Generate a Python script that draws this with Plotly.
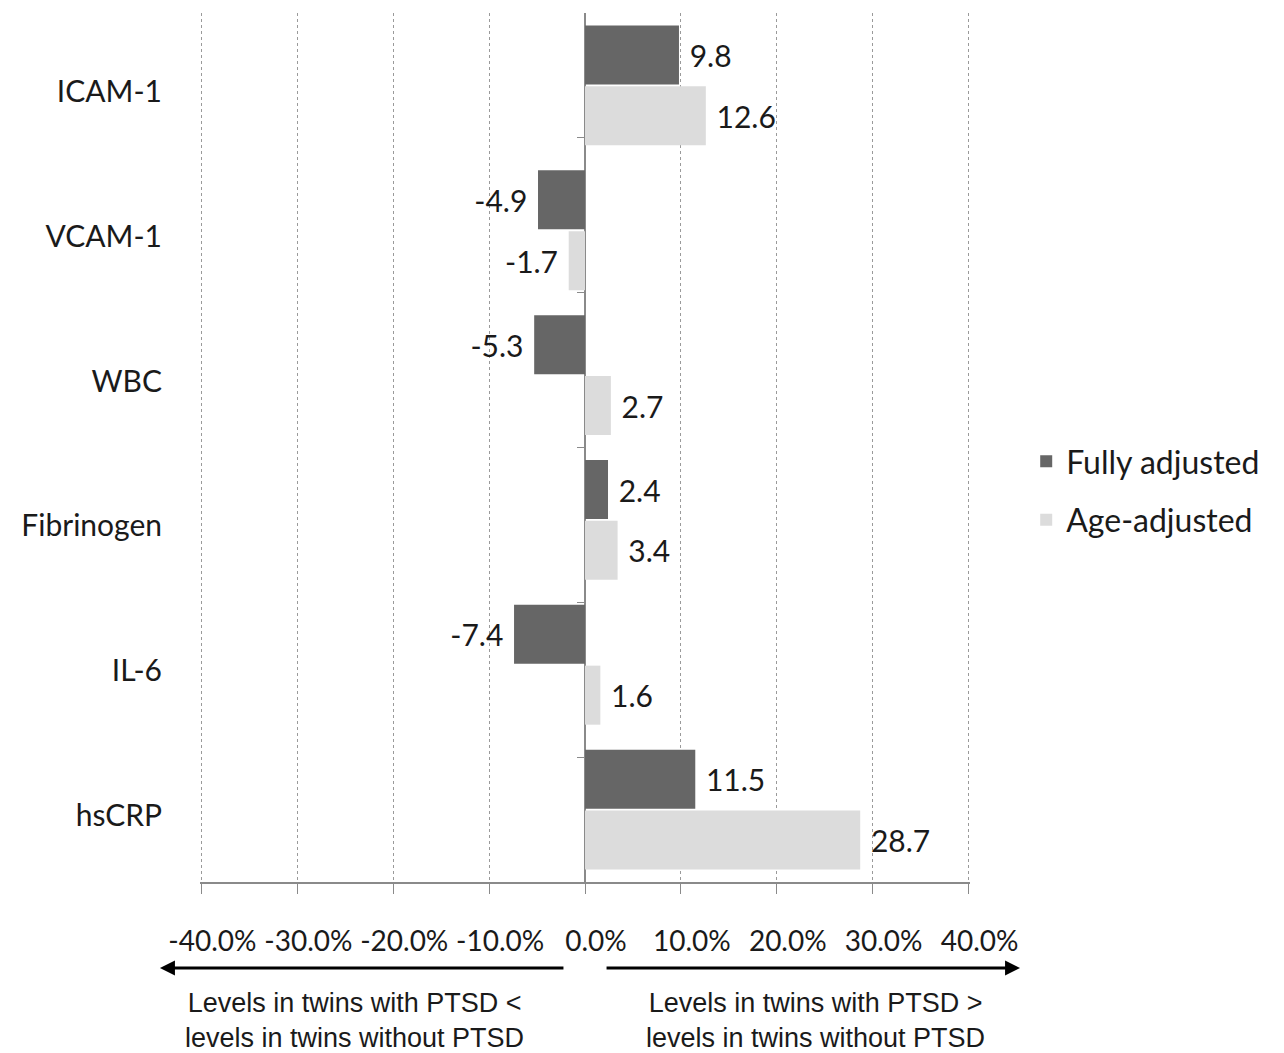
import plotly.graph_objects as go

categories = ["ICAM-1", "VCAM-1", "WBC", "Fibrinogen", "IL-6", "hsCRP"]
fully_adjusted = [9.8, -4.9, -5.3, 2.4, -7.4, 11.5]
age_adjusted = [12.6, -1.7, 2.7, 3.4, 1.6, 28.7]
tick_values = [-40, -30, -20, -10, 0, 10, 20, 30, 40]
tick_labels = ["-40.0%", "-30.0%", "-20.0%", "-10.0%", "0.0%", "10.0%", "20.0%", "30.0%", "40.0%"]
left_note = "Levels in twins with PTSD <<br>levels in twins without PTSD"
right_note = "Levels in twins with PTSD ><br>levels in twins without PTSD"

FONT = "Lato"
TXT = "#1a1a1a"


def templates(vals):
    return [" %{x:.1f}" if v >= 0 else "%{x:.1f} " for v in vals]


fig = go.Figure()
fig.add_trace(go.Bar(
    name="Fully adjusted", y=categories, x=fully_adjusted, orientation="h",
    marker=dict(color="#666666", line=dict(width=0)), legendgroup="a",
    texttemplate=templates(fully_adjusted), textposition="outside", cliponaxis=False,
    textfont=dict(family=FONT, size=30, color=TXT),
))
fig.add_trace(go.Bar(
    name="Age-adjusted", y=categories, x=age_adjusted, orientation="h",
    marker=dict(color="#dcdcdc", line=dict(width=0)), legendgroup="b",
    texttemplate=templates(age_adjusted), textposition="outside", cliponaxis=False,
    textfont=dict(family=FONT, size=30, color=TXT),
))
# helper trace for the boundary ticks on the zero line
fig.add_trace(go.Scatter(x=[None] * len(categories), y=categories, yaxis="y2",
                         showlegend=False, hoverinfo="skip", mode="markers"))

fig.update_layout(
    width=1284, height=1053,
    margin=dict(l=200, r=314, t=13, b=171, autoexpand=False),
    paper_bgcolor="white", plot_bgcolor="white",
    barmode="group", bargap=0.16, bargroupgap=0.03,
    font=dict(family=FONT, size=26, color=TXT),
    xaxis=dict(
        range=[-40.15, 40.15], tickvals=tick_values, ticktext=tick_labels,
        showgrid=True, gridcolor="#9a9a9a", griddash="3px,3px", gridwidth=1,
        zeroline=True, zerolinecolor="#8a8a8a", zerolinewidth=1.5,
        showline=True, linecolor="#8a8a8a", linewidth=1.5,
        ticks="outside", ticklen=10, tickcolor="#8a8a8a", automargin=False,
        tickangle=0, ticklabelstandoff=24, ticklabelshift=11,
        tickfont=dict(family=FONT, size=28, color=TXT),
    ),
    yaxis=dict(
        type="category", categoryorder="array", categoryarray=categories,
        autorange="reversed", showgrid=False, zeroline=False, showline=False,
        ticks="", ticklabelstandoff=37, ticklabelshift=-6, automargin=False,
        tickfont=dict(family=FONT, size=30, color=TXT),
    ),
    yaxis2=dict(
        type="category", categoryorder="array", categoryarray=categories,
        autorange="reversed", overlaying="y", anchor="free", position=0.5,
        side="left", showticklabels=False, ticks="outside", tickson="boundaries",
        ticklen=8, tickcolor="#8a8a8a", showgrid=False, zeroline=False, showline=False,
        automargin=False,
    ),
    legend=dict(
        x=1.073, y=0.45, xanchor="left", yanchor="middle",
        font=dict(family=FONT, size=32, color=TXT), tracegroupgap=14,
        traceorder="grouped", bgcolor="rgba(0,0,0,0)",
    ),
    showlegend=True,
)

fig.add_annotation(xref="paper", yref="paper", x=-0.052, y=-0.099,
                   ax=405, ay=0, axref="pixel", ayref="pixel", text="",
                   showarrow=True, arrowhead=2, arrowsize=1, arrowwidth=3, arrowcolor="black")
fig.add_annotation(xref="paper", yref="paper", x=1.065, y=-0.099,
                   ax=-415, ay=0, axref="pixel", ayref="pixel", text="",
                   showarrow=True, arrowhead=2, arrowsize=1, arrowwidth=3, arrowcolor="black")
fig.add_annotation(xref="paper", yref="paper", x=0.201, y=-0.159,
                   xanchor="center", yanchor="middle",
                   text=left_note, showarrow=False,
                   font=dict(family="Liberation Sans", size=27, color=TXT))
fig.add_annotation(xref="paper", yref="paper", x=0.799, y=-0.159,
                   xanchor="center", yanchor="middle",
                   text=right_note, showarrow=False,
                   font=dict(family="Liberation Sans", size=27, color=TXT))

fig.write_html("out.html", config={"displayModeBar": False},
               post_script="document.body.style.margin='0';")
